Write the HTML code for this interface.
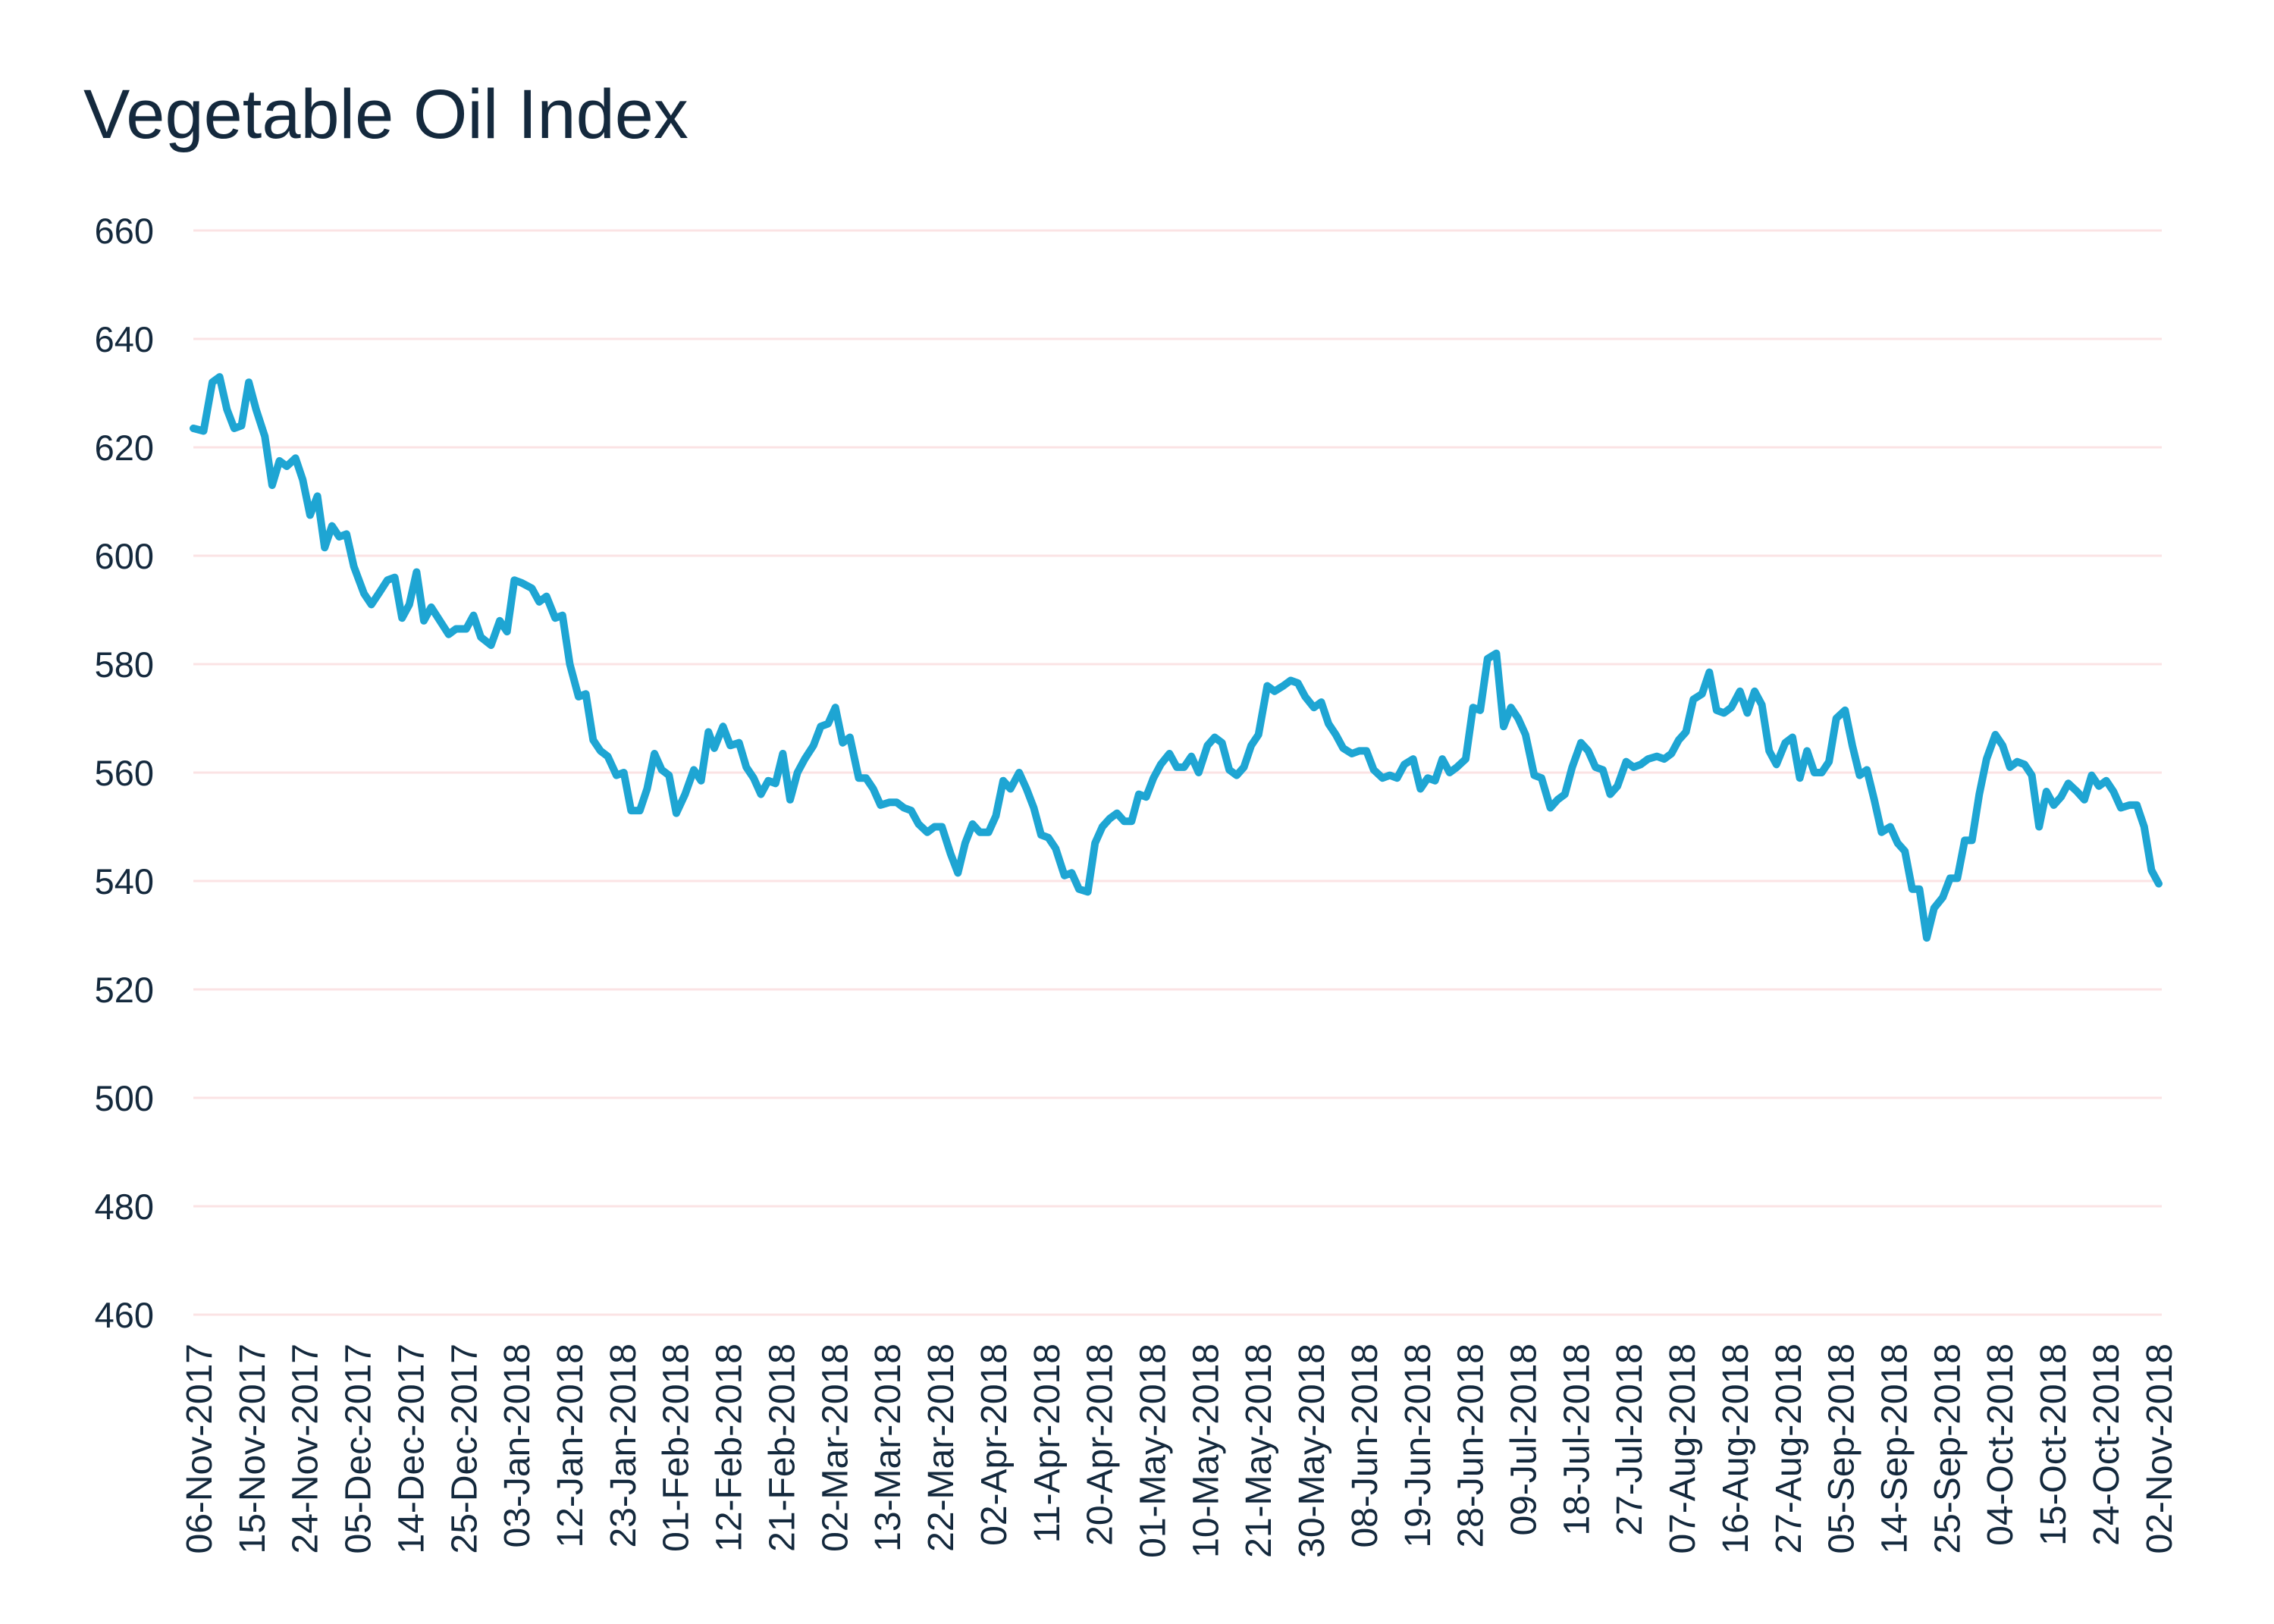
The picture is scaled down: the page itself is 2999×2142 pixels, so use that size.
<!DOCTYPE html>
<html><head><meta charset="utf-8"><style>
html,body{margin:0;padding:0;background:#fff}
svg{display:block}
text{font-family:"Liberation Sans",sans-serif;fill:#14293d}
</style></head><body>
<svg id="s" width="2999" height="2142" viewBox="0 0 2999 2142" xmlns="http://www.w3.org/2000/svg">
<text x="110" y="182" font-size="92">Vegetable Oil Index</text>
<g id="grid"></g>
<g id="xl"></g>
<path id="ln" fill="none" stroke="#1ea5d3" stroke-width="10" stroke-linejoin="round" stroke-linecap="round"/>
</svg>
<script>
var NS="http://www.w3.org/2000/svg";
function Y(v){return 304+(660-v)*7.15;}
var g=document.getElementById('grid');
for(var v=460;v<=660;v+=20){
 var l=document.createElementNS(NS,'line');
 l.setAttribute('x1',255);l.setAttribute('x2',2851);l.setAttribute('y1',Y(v));l.setAttribute('y2',Y(v));
 l.setAttribute('stroke','#fbe3e4');l.setAttribute('stroke-width',3);g.appendChild(l);
 var t=document.createElementNS(NS,'text');t.setAttribute('x',203);t.setAttribute('y',Y(v)+17);
 t.setAttribute('text-anchor','end');t.setAttribute('font-size',47);t.textContent=v;g.appendChild(t);
}
var labs=["06-Nov-2017","15-Nov-2017","24-Nov-2017","05-Dec-2017","14-Dec-2017","25-Dec-2017","03-Jan-2018","12-Jan-2018","23-Jan-2018","01-Feb-2018","12-Feb-2018","21-Feb-2018","02-Mar-2018","13-Mar-2018","22-Mar-2018","02-Apr-2018","11-Apr-2018","20-Apr-2018","01-May-2018","10-May-2018","21-May-2018","30-May-2018","08-Jun-2018","19-Jun-2018","28-Jun-2018","09-Jul-2018","18-Jul-2018","27-Jul-2018","07-Aug-2018","16-Aug-2018","27-Aug-2018","05-Sep-2018","14-Sep-2018","25-Sep-2018","04-Oct-2018","15-Oct-2018","24-Oct-2018","02-Nov-2018"];
var xl=document.getElementById('xl');
labs.forEach(function(s,i){
 var x=262+i*69.86,y=1772;
 var t=document.createElementNS(NS,'text');
 t.setAttribute('transform','translate('+(x+17)+','+y+') rotate(-90)');
 t.setAttribute('text-anchor','end');t.setAttribute('font-size',48);t.textContent=s;xl.appendChild(t);
});
var d=[133,623.5,140,623,146,632,151,633,156,627,161,623.5,166,624,171,632,176,627,182,622,187,613,192,617.5,197,616.5,203,618,208,614,213,607.5,218,611,223,601.5,228,605.5,233,603.5,238,604,243,598,250,593,255,591,260,593,266,595.5,271,596,276,588.5,281,591,286,597,291,588,296,590.5,302,588,308,585.5,313,586.5,320,586.5,325,589,330,585,337,583.5,343,588,348,586,353,595.5,358,595,365,594,370,591.5,375,592.5,381,588.5,386,589,391,580,397,574,402,574.5,407,566,412,564,417,563,423,559.5,428,560,433,553,439,553,444,557,449,563.5,454,560.5,459,559.5,464,552.5,470,556,476,560.5,481,558.5,486,567.5,490,564.5,496,568.5,501,565,507,565.5,512,561,517,559,522,556,527,558.5,532,558,537,563.5,542,555,547,560,552,562.5,558,565,563,568.5,568,569,573,572,578,565.5,583,566.5,589,559,594,559,599,557,604,554,610,554.5,615,554.5,620,553.5,625,553,630,550.5,636,549,641,550,646,550,652,545,657,541.5,662,547,667,550.5,672,549,678,549,683,552,688,558.5,693,557,699,560,704,557,709,553.5,714,548.5,719,548,724,546,730,541,735,541.5,740,538.5,746,538,751,547,756,550,761,551.5,766,552.5,771,551,776,551,781,556,786,555.5,791,559,796,561.5,802,563.5,807,561,812,561,817,563,822,560,828,565,833,566.5,838,565.5,843,560.5,848,559.5,853,561,858,565,863,567,869,576,874,575,880,576,885,577,890,576.5,895,574,901,572,906,573,911,569,916,567,921,564.5,927,563.5,932,564,937,564,942,560.5,948,559,953,559.5,958,559,963,561.5,969,562.5,974,557,979,559,984,558.5,989,562.5,994,560,999,561,1005,562.5,1010,572,1015,571.5,1020,581,1026,582,1031,568.5,1036,572,1041,570,1046,567,1052,559.5,1057,559,1063,553.5,1068,555,1073,556,1078,561,1084,565.5,1089,564,1094,561,1099,560.5,1104,556,1109,557.5,1115,562,1120,561,1125,561.5,1130,562.5,1136,563,1141,562.5,1146,563.5,1151,566,1156,567.5,1161,573.5,1167,574.5,1172,578.5,1177,571.5,1182,571,1187,572,1193,575,1198,571,1203,575,1208,572.5,1213,564,1218,561.5,1224,565.5,1229,566.5,1234,559,1239,564,1244,560,1249,560,1254,562,1259,570,1265,571.5,1270,565,1275,559.5,1280,560.5,1285,555,1290,549,1296,550,1301,547,1306,545.5,1311,538.5,1316,538.5,1321,529.5,1326,535,1332,537,1337,540.5,1342,540.5,1347,547.5,1352,547.5,1357,556,1362,562.5,1368,567,1373,565,1378,561,1383,562,1388,561.5,1393,559.5,1398,550,1403,556.5,1408,554,1413,555.5,1418,558,1424,556.5,1429,555,1434,559.5,1439,557.5,1444,558.5,1449,556.5,1454,553.5,1460,554,1465,554,1470,550,1475,542,1480,539.5];
var p="";
for(var i=0;i<d.length;i+=2){
 var x=255+(d[i]-133)*(2847-255)/(1480-133);
 p+=(i?"L":"M")+x.toFixed(1)+","+Y(d[i+1]).toFixed(1);
}
document.getElementById('ln').setAttribute('d',p);
</script>
</body></html>
